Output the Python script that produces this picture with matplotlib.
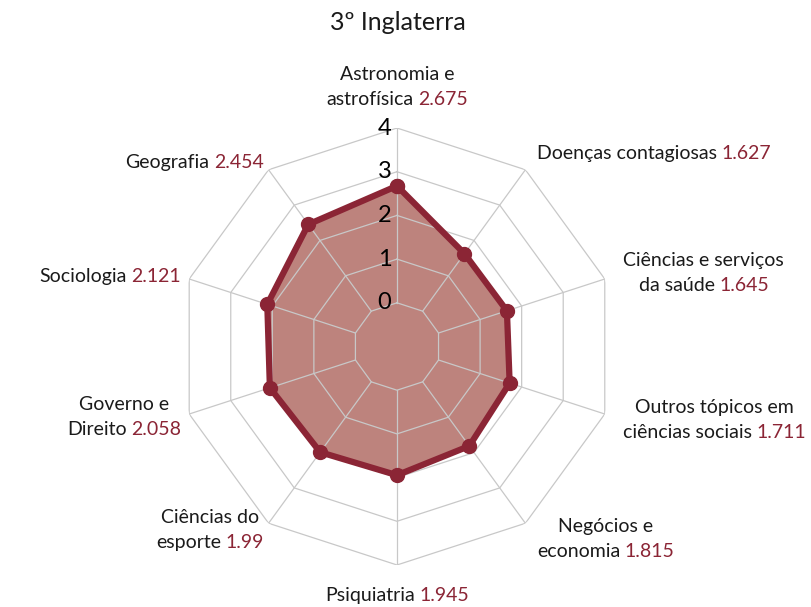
import numpy as np
import matplotlib
matplotlib.use("Agg")
import matplotlib.pyplot as plt
from matplotlib.offsetbox import TextArea, HPacker, VPacker, AnnotationBbox

title = "3º Inglaterra"
categories = [
    "Astronomia e\nastrofísica",
    "Doenças contagiosas",
    "Ciências e serviços\nda saúde",
    "Outros tópicos em\nciências sociais",
    "Negócios e\neconomia",
    "Psiquiatria",
    "Ciências do\nesporte",
    "Governo e\nDireito",
    "Sociologia",
    "Geografia",
]
values = [2.675, 1.627, 1.645, 1.711, 1.815, 1.945, 1.99, 2.058, 2.121, 2.454]
levels = [0, 1, 2, 3, 4]

red = "#8b2535"
fill = "#bd837d"
grid = "#c8c8c8"
font = "Lato"

fig = plt.figure(figsize=(8.11, 6.07), dpi=100)
ax = fig.add_axes([0.2201, 0.0692, 0.5388, 0.7199], projection="polar")
ax.set_theta_zero_location("N")
ax.set_theta_direction(-1)
ax.set_ylim(-1, 4)
ax.grid(False)
ax.spines["polar"].set_visible(False)
ax.set_xticks([])
ax.set_yticks([])
ax.patch.set_alpha(0)

n = len(categories)
theta = np.linspace(0, 2 * np.pi, n, endpoint=False)
theta_c = np.append(theta, theta[0])

# polygon grid
for lvl in levels:
    ax.plot(theta_c, [lvl] * (n + 1), color=grid, lw=0.9, zorder=2)
for t in theta:
    ax.plot([t, t], [0, 4], color=grid, lw=0.9, zorder=2)

vals_c = np.append(values, values[0])
ax.fill(theta_c, vals_c, color=fill, zorder=1, lw=0)
ax.plot(theta_c, vals_c, color=red, lw=4.5, zorder=3, solid_joinstyle="miter",
        marker="o", markersize=10, clip_on=False)

# radial tick labels
for lvl in levels:
    ax.annotate(str(lvl), (0, lvl), xytext=(-4, 0), textcoords="offset points",
                ha="right", va="center", fontsize=17, family=font, color="black", zorder=4)

# category labels with coloured values
fs = 14
for t, cat, v in zip(theta, categories, values):
    lines = cat.split("\n")
    kids = [TextArea(l, textprops=dict(fontsize=fs, family=font, color="#1a1a1a")) for l in lines[:-1]]
    last = HPacker(children=[
        TextArea(lines[-1], textprops=dict(fontsize=fs, family=font, color="#1a1a1a")),
        TextArea(str(v), textprops=dict(fontsize=fs, family=font, color=red)),
    ], pad=0, sep=3, align="baseline")
    kids.append(last)
    box = VPacker(children=kids, pad=0, sep=6, align="center")
    s, c = np.sin(t), np.cos(t)
    if abs(s) < 0.1:
        align = (0.5, 0.0 if c > 0 else 1.0)
        r = 4.45 if c > 0 else 4.5
    else:
        align = (0.0 if s > 0 else 1.0, 0.5)
        r = 4.45 if s > 0 else 4.2
    ab = AnnotationBbox(box, (t, r), xycoords="data", box_alignment=align,
                        frameon=False, pad=0, annotation_clip=False)
    ax.add_artist(ab)

fig.text(0.49, 0.963, title, ha="center", va="center", fontsize=18, family=font, color="#1a1a1a")

fig.savefig("out.png", dpi=100)
